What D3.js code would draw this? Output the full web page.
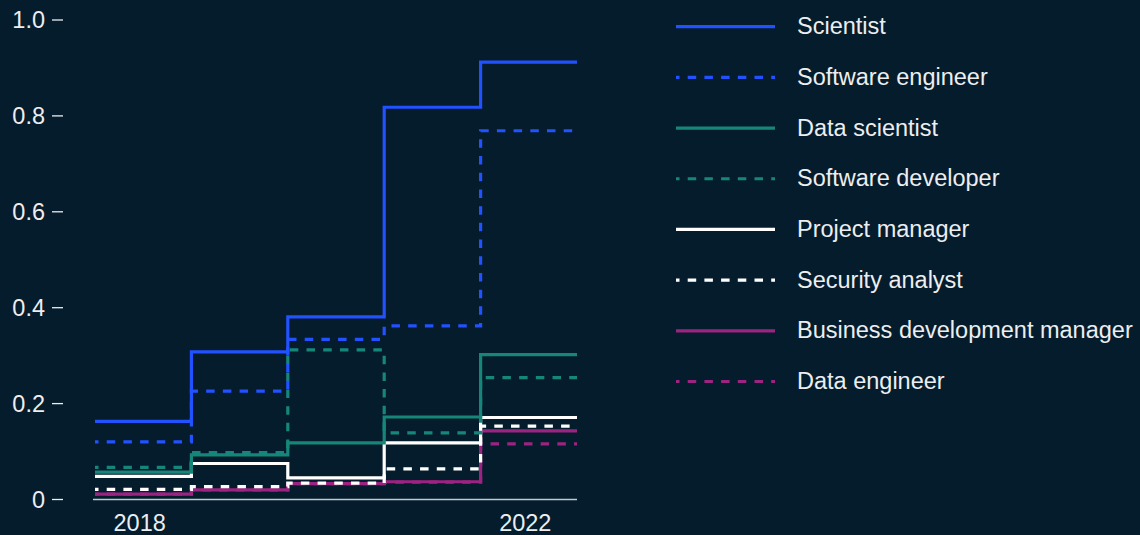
<!DOCTYPE html>
<html>
<head>
<meta charset="utf-8">
<script src="https://cdn.jsdelivr.net/npm/d3@7/dist/d3.min.js"></script>
<style>
  html, body { margin: 0; padding: 0; background: #051c2c; }
  svg { display: block; }
  text { font-family: "Liberation Sans", Arial, sans-serif; fill: #eceef0; }
</style>
</head>
<body>
<svg id="chart" width="1140" height="535"></svg>
<script>
// Years shown on the step chart
const years = [2018, 2019, 2020, 2021, 2022];
const xTickLabels = [2018, 2022];
const yTicks = [0, 0.2, 0.4, 0.6, 0.8, 1.0];

// Role names, in legend order
const roles = [
  "Scientist",
  "Software engineer",
  "Data scientist",
  "Software developer",
  "Project manager",
  "Security analyst",
  "Business development manager",
  "Data engineer"
];

// Yearly values per role
const scientist           = [0.162, 0.307, 0.380, 0.817, 0.911];
const softwareEngineer    = [0.119, 0.225, 0.333, 0.361, 0.768];
const dataScientist       = [0.056, 0.092, 0.117, 0.171, 0.301];
const softwareDeveloper   = [0.066, 0.097, 0.311, 0.138, 0.253];
const projectManager      = [0.047, 0.074, 0.044, 0.117, 0.170];
const securityAnalyst     = [0.020, 0.026, 0.033, 0.063, 0.152];
const businessDevManager  = [0.010, 0.019, 0.032, 0.036, 0.142];
const dataEngineer        = [0.010, 0.019, 0.032, 0.035, 0.115];

const seriesValues = [scientist, softwareEngineer, dataScientist, softwareDeveloper,
                      projectManager, securityAnalyst, businessDevManager, dataEngineer];

// Visual styling per role
const BLUE = "#2251ff", TEAL = "#16867b", WHITE = "#ffffff", PURPLE = "#9d2382";
const styles = [
  { color: BLUE,   dashed: false },
  { color: BLUE,   dashed: true  },
  { color: TEAL,   dashed: false },
  { color: TEAL,   dashed: true  },
  { color: WHITE,  dashed: false },
  { color: WHITE,  dashed: true  },
  { color: PURPLE, dashed: false },
  { color: PURPLE, dashed: true  }
];
const DASH = "8.5,8.2";

const series = roles.map((name, i) => ({ name, values: seriesValues[i], ...styles[i] }));

const svg = d3.select("#chart");

const x = d3.scaleBand().domain(years).range([95, 577]).padding(0);
const y = d3.scaleLinear().domain([0, 1]).range([499, 19.5]);

// Y axis: short dash ticks, no domain line
const yAxis = d3.axisLeft(y)
  .tickValues(yTicks)
  .tickSize(11)
  .tickPadding(7)
  .tickFormat(d => d === 0 ? "0" : d3.format(".1f")(d));

const gy = svg.append("g").attr("transform", "translate(63,0)").call(yAxis);
gy.select(".domain").remove();
gy.selectAll(".tick line").attr("stroke", "#eceef0").attr("stroke-width", 1.3);
gy.selectAll(".tick text")
  .attr("font-size", 23.5)
  .attr("font-family", "Liberation Sans, Arial, sans-serif")
  .attr("fill", "#eceef0")
  .attr("dy", "0.35em");

// X baseline
svg.append("line")
  .attr("x1", 93).attr("x2", x.range()[1])
  .attr("y1", y(0) + 0.5).attr("y2", y(0) + 0.5)
  .attr("stroke", "#c4c8cc").attr("stroke-width", 1.5);

// X labels (first and last year only)
svg.append("g").selectAll("text")
  .data(xTickLabels)
  .join("text")
  .attr("x", d => x(d) + x.bandwidth() / 2 - 3.5)
  .attr("y", 530.5)
  .attr("text-anchor", "middle")
  .attr("font-size", 23.5)
  .text(d => d);

// Step lines: one level per year band, held to the end of the last band
const line = d3.line()
  .x(d => d.x)
  .y(d => y(d.v))
  .curve(d3.curveStepAfter);

function stepPoints(values) {
  const pts = years.map((yr, i) => ({ x: x(yr), v: values[i] }));
  pts.push({ x: x(years[years.length - 1]) + x.bandwidth(), v: values[values.length - 1] });
  return pts;
}

// Later roles are drawn underneath earlier ones
svg.append("g").selectAll("path")
  .data(series.slice().reverse())
  .join("path")
  .attr("d", d => line(stepPoints(d.values)))
  .attr("fill", "none")
  .attr("stroke", d => d.color)
  .attr("stroke-width", 3.2)
  .attr("stroke-dasharray", d => d.dashed ? DASH : null)
  .attr("stroke-dashoffset", d => d.dashed ? 5 : null);

// Legend
const legendY = d3.scaleLinear().domain([0, roles.length - 1]).range([26.7, 381.5]);
const legend = svg.append("g").selectAll("g")
  .data(series)
  .join("g")
  .attr("transform", (d, i) => `translate(0,${legendY(i)})`);

legend.append("line")
  .attr("x1", 676).attr("x2", 775)
  .attr("y1", 0).attr("y2", 0)
  .attr("stroke", d => d.color)
  .attr("stroke-width", 3.2)
  .attr("stroke-dasharray", d => d.dashed ? DASH : null)
  .attr("stroke-dashoffset", d => d.dashed ? 5 : null);

legend.append("text")
  .attr("x", 797)
  .attr("y", 7.6)
  .attr("font-size", 23.5)
  .text(d => d.name);
</script>
</body>
</html>
